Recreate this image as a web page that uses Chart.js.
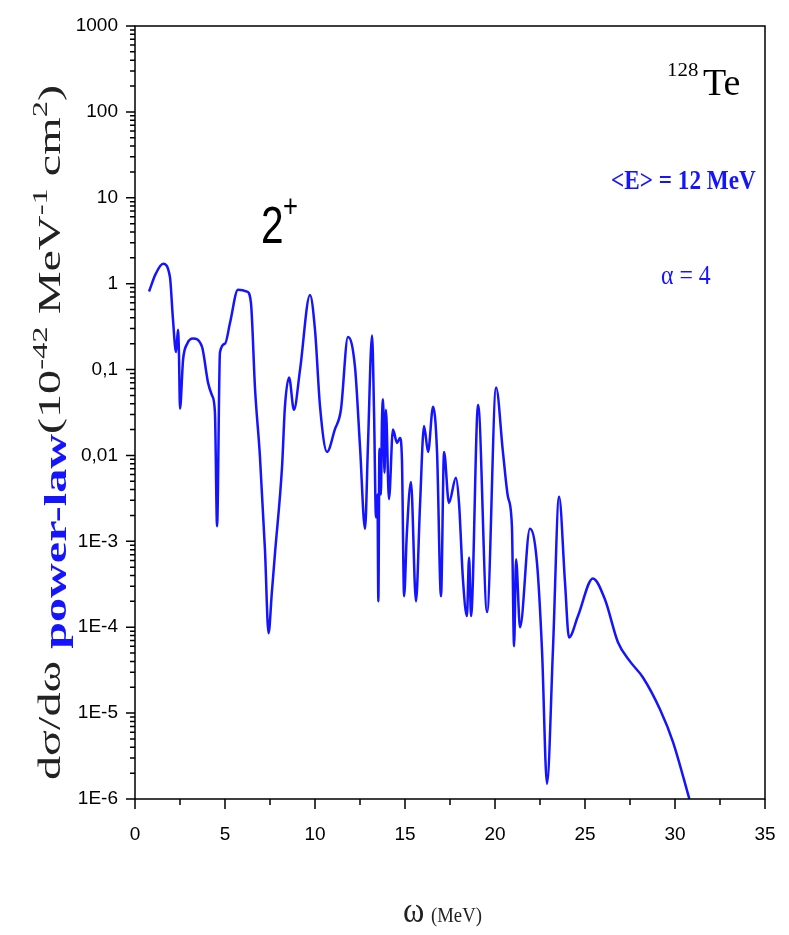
<!DOCTYPE html>
<html>
<head>
<meta charset="utf-8">
<script src="https://cdn.jsdelivr.net/npm/chart.js@4"></script>
<style>
  body { margin: 0; background: #fff; }
</style>
</head>
<body>
<canvas id="myChart" width="789" height="935"></canvas>
<script>
// omega (MeV) and cross section
const omega = [0.78, 1.15, 1.56, 1.94, 2.1, 2.28, 2.39, 2.44, 2.5, 2.67, 2.9, 3.22, 3.72, 4.06, 4.28, 4.44, 4.56,
  4.72, 5.0, 5.28, 5.72, 6.22, 6.44, 6.67, 6.94, 7.22, 7.42, 7.6, 7.78, 8.17, 8.33, 8.56, 8.83, 9.17, 9.72,
  10.0, 10.28, 10.67, 11.1, 11.44, 11.83, 12.22, 12.5, 12.78, 12.94, 13.17, 13.28, 13.39, 13.47, 13.52, 13.58,
  13.66, 13.72, 13.78, 13.86, 13.94, 14.11, 14.33, 14.56, 14.72, 14.83, 14.95, 15.1, 15.33, 15.61, 15.83,
  16.06, 16.28, 16.56, 16.78, 17.0, 17.17, 17.44, 17.83, 18.0, 18.22, 18.44, 18.56, 18.67, 19.06, 19.56,
  20.06, 20.44, 20.72, 20.94, 21.06, 21.17, 21.39, 21.94, 22.33, 22.61, 22.89, 23.22, 23.56, 23.89, 24.11,
  24.61, 25.44, 26.11, 26.83, 27.5, 28.22, 29.17, 29.89, 30.8];
const sigma = [0.81, 1.3, 1.7, 1.2, 0.41, 0.16, 0.29, 0.16, 0.035, 0.13, 0.2, 0.23, 0.185, 0.07, 0.05, 0.032, 0.0015,
  0.158, 0.2, 0.35, 0.85, 0.81, 0.6, 0.059, 0.0098, 8e-4, 8.5e-5, 2.5e-4, 7.4e-4, 0.0074, 0.037, 0.081, 0.034, 0.1, 0.74,
  0.29, 0.037, 0.011, 0.02, 0.034, 0.24, 0.108, 0.0127, 0.0014, 0.0127, 0.25, 0.032, 0.0019, 0.0035, 2e-4, 0.012,
  0.0035, 0.025, 0.045, 0.0063, 0.034, 0.0031, 0.02, 0.014, 0.016, 0.009, 2.3e-4, 0.0012, 0.0049, 2e-4, 0.0025,
  0.022, 0.011, 0.037, 0.011, 2.3e-4, 0.011, 0.0028, 0.0055, 0.0028, 3.6e-4, 1.35e-4, 6.5e-4, 1.35e-4, 0.039, 1.5e-4,
  0.062, 0.011, 0.0033, 0.0015, 6e-5, 6.2e-4, 1e-4, 0.0014, 5.7e-4, 5.5e-5, 1.5e-6, 5.5e-5, 0.0033, 3.3e-4, 7.6e-5,
  1.35e-4, 3.7e-4, 2.1e-4, 6.7e-5, 4e-5, 2.6e-5, 1.1e-5, 4.6e-6, 1e-6];

const yTickValues = [1e-6, 1e-5, 1e-4, 1e-3, 0.01, 0.1, 1, 10, 100, 1000];
const yTickLabels = ["1E-6", "1E-5", "1E-4", "1E-3", "0,01", "0,1", "1", "10", "100", "1000"];
const xTickValues = [0, 5, 10, 15, 20, 25, 30, 35];

const blue = "#1414ff";
const dark = "#222";

function hasFont(name) {
  const c = document.createElement("canvas").getContext("2d");
  c.font = "40px monospace";
  const a = c.measureText("mmmiii1000").width;
  c.font = '40px "' + name + '", monospace';
  return c.measureText("mmmiii1000").width !== a;
}
const narrow = hasFont("Liberation Sans Narrow");
const tickFont = narrow
  ? { family: "'Liberation Sans Narrow'", size: 21 }
  : { family: "'Liberation Sans'", size: 19 };

// frame + tick marks (outward, Origin style)
const frameTicks = {
  id: "frameTicks",
  afterDraw(chart) {
    const { ctx, chartArea: a, scales } = chart;
    ctx.save();
    ctx.strokeStyle = "#000";
    ctx.lineWidth = 1.5;
    ctx.strokeRect(a.left, a.top, a.right - a.left, a.bottom - a.top);
    ctx.beginPath();
    for (let e = -6; e <= 3; e++) {
      const y = scales.y.getPixelForValue(Math.pow(10, e));
      ctx.moveTo(a.left, y); ctx.lineTo(a.left - 9, y);
      if (e < 3) {
        for (let m = 2; m <= 9; m++) {
          const ym = scales.y.getPixelForValue(m * Math.pow(10, e));
          ctx.moveTo(a.left, ym); ctx.lineTo(a.left - 5, ym);
        }
      }
    }
    for (let v = 0; v <= 35; v += 2.5) {
      const x = scales.x.getPixelForValue(v);
      const len = v % 5 === 0 ? 10 : 6;
      ctx.moveTo(x, a.bottom); ctx.lineTo(x, a.bottom + len);
    }
    ctx.stroke();
    ctx.restore();
  },
};

function txt(ctx, s, x, y, font, color, sx) {
  ctx.save();
  ctx.translate(x, y);
  ctx.scale(sx || 1, 1);
  ctx.font = font;
  ctx.fillStyle = color;
  ctx.textBaseline = "alphabetic";
  ctx.fillText(s, 0, 0);
  ctx.restore();
}

const labels = {
  id: "labels",
  afterDraw(chart) {
    const ctx = chart.ctx;
    const serif = "'Liberation Serif', 'Times New Roman', serif";
    // 2+
    txt(ctx, "2", 261, 243, "52px 'Liberation Sans', Arial", "#000", 0.78);
    txt(ctx, "+", 283, 217, "32px 'Liberation Sans', Arial", "#000", 0.8);
    // 128Te
    txt(ctx, "128", 667, 76, "19px " + serif, "#000", 1.1);
    txt(ctx, "Te", 703, 95, "38px " + serif, "#000", 1.0);
    // <E> and alpha
    txt(ctx, "<E> = 12 MeV", 611, 189, "bold 27px " + serif, blue, 0.86);
    txt(ctx, "\u03b1 = 4", 661, 284, "28px " + serif, blue, 0.85);
    // x title
    txt(ctx, "\u03c9", 403, 922, "36px " + serif, dark, 0.9);
    txt(ctx, "(MeV)", 431, 922, "22px " + serif, dark, 0.85);
    // y title, rotated, mixed styles
    const segs = [
      ["d\u03c3/d\u03c9 ", "31px " + serif, dark, 0],
      ["power-law", "bold 31px " + serif, blue, 6],
      ["(10", "31px " + serif, dark, 0],
      ["-42", "21px " + serif, dark, -13],
      [" MeV", "31px " + serif, dark, 0],
      ["-1", "21px " + serif, dark, -13],
      [" cm", "31px " + serif, dark, 0],
      ["2", "21px " + serif, dark, -13],
      [")", "31px " + serif, dark, 0],
    ];
    let total = 0;
    segs.forEach(s => { ctx.font = s[1]; total += ctx.measureText(s[0]).width; });
    const k = 695 / total;
    ctx.save();
    ctx.translate(60, 780);
    ctx.rotate(-Math.PI / 2);
    ctx.scale(k, 1);
    let cx = 0;
    segs.forEach(s => {
      ctx.font = s[1];
      ctx.fillStyle = s[2];
      ctx.fillText(s[0], cx, s[3]);
      cx += ctx.measureText(s[0]).width;
    });
    ctx.restore();
  },
};

const ctx = document.getElementById("myChart").getContext("2d");

const lineChart = new Chart(ctx, {
  type: "line",
  data: {
    datasets: [
      {
        data: omega.map((x, i) => ({ x: x, y: sigma[i] })),
        borderColor: blue,
        backgroundColor: "transparent",
        borderWidth: 2.5,
        pointRadius: 0,
        fill: false,
        cubicInterpolationMode: "monotone",
      },
    ],
  },
  options: {
    responsive: false,
    animation: false,
    layout: { padding: { top: 26, right: 24, left: 0, bottom: 0 } },
    plugins: { legend: { display: false }, tooltip: { enabled: false } },
    scales: {
      x: {
        type: "linear",
        min: 0,
        max: 35,
        afterBuildTicks: axis => { axis.ticks = xTickValues.map(v => ({ value: v })); },
        afterFit: axis => { axis.height = 136; axis.paddingLeft = 0; axis.paddingRight = 0; },
        grid: { display: false, drawTicks: false },
        border: { display: false },
        ticks: { color: "#000", font: tickFont, padding: 24, maxRotation: 0 },
      },
      y: {
        type: "logarithmic",
        min: 1e-6,
        max: 1000,
        afterBuildTicks: axis => { axis.ticks = yTickValues.map(v => ({ value: v })); },
        afterFit: axis => { axis.width = 135; axis.paddingTop = 0; axis.paddingBottom = 0; },
        grid: { display: false, drawTicks: false },
        border: { display: false },
        ticks: {
          color: "#000",
          font: tickFont,
          padding: 17,
          callback: (v, i) => yTickLabels[i],
        },
      },
    },
  },
  plugins: [frameTicks, labels],
});
</script>
</body>
</html>
